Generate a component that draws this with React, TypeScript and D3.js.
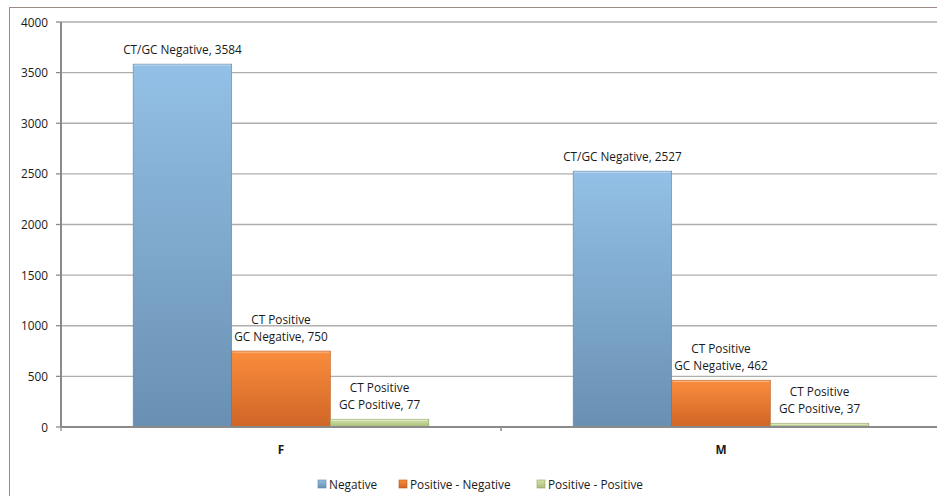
import React from "react";
import * as d3 from "d3";

const categories = ["F", "M"];
const seriesNames = ["Negative", "Positive - Negative", "Positive - Positive"];
const negative = [3584, 2527];
const posNeg = [750, 462];
const posPos = [77, 37];
const labelPrefixes = [["CT/GC Negative"], ["CT Positive", "GC Negative"], ["CT Positive", "GC Positive"]];
const yTicks = [0, 500, 1000, 1500, 2000, 2500, 3000, 3500, 4000];

const colors = [
  { top: "#93c0e6", bottom: "#6990b2", edge: "#5f86a8" },
  { top: "#fa8d3c", bottom: "#cf6527", edge: "#b9581f" },
  { top: "#d3e4aa", bottom: "#a9bd7a", edge: "#8fa260" },
];

export default function App() {
  const W = 937, H = 496;
  const left = 61, right = 941, top = 22, bottom = 427;
  const x0 = d3.scaleBand().domain(categories).range([left, right]).paddingInner(0).paddingOuter(0);
  const bw = x0.bandwidth();
  const groupW = bw * 0.672;
  const x1 = d3.scaleBand().domain(seriesNames).range([0, groupW]).padding(0);
  const y = d3.scaleLinear().domain([0, 4000]).range([bottom, top]);
  const data = [negative, posNeg, posPos];
  const font = "'Open Sans', 'Liberation Sans', sans-serif";
  const fs = 11.8;

  return (
    <svg width={W} height={H} style={{ position: "absolute", left: 0, top: 0, background: "#fff" }} fontFamily={font}>
      <defs>
        {colors.map((c, i) => (
          <linearGradient key={i} id={`g${i}`} x1="0" y1="0" x2="0" y2="1">
            <stop offset="0" stopColor={c.top} />
            <stop offset="1" stopColor={c.bottom} />
          </linearGradient>
        ))}
      </defs>
      <rect x={0} y={0} width={W} height={H} fill="#fff" />
      <line x1={9.5} y1={7} x2={9.5} y2={H} stroke="#9d8a86" strokeWidth={1} />
      <line x1={9} y1={7.5} x2={W} y2={7.5} stroke="#9d8a86" strokeWidth={1} />
      {yTicks.map((t) => (
        <g key={t}>
          {t > 0 && <line x1={left} x2={right} y1={y(t)} y2={y(t)} stroke="#aeaeae" strokeWidth={1.3} />}
          <line x1={56} x2={left} y1={y(t)} y2={y(t)} stroke="#8a8a8a" strokeWidth={1.3} />
          <text x={48} y={y(t) + 4.5} textAnchor="end" fontSize={fs} fill="#1a1a1a">{t}</text>
        </g>
      ))}
      {categories.map((c, ci) => {
        const gx = (x0(c) as number) + (bw - groupW) / 2;
        return (
          <g key={c}>
            {seriesNames.map((s, si) => {
              const v = data[si][ci];
              const bx = gx + (x1(s) as number);
              const w = x1.bandwidth();
              const by = y(v);
              const lines = [...labelPrefixes[si]];
              lines[lines.length - 1] = `${lines[lines.length - 1]}, ${v}`;
              const lh = 17.5;
              return (
                <g key={s}>
                  <rect x={bx} y={by} width={w} height={bottom - by} fill={`url(#g${si})`} stroke={colors[si].edge} strokeWidth={0.6} />
                  <line x1={bx + 1} x2={bx + w - 1} y1={by + 1} y2={by + 1} stroke="#ffffff" strokeOpacity={0.45} />
                  {lines.map((ln, li) => (
                    <text key={li} x={bx + w / 2} y={by - 10 - (lines.length - 1 - li) * lh} textAnchor="middle" fontSize={fs} fill="#1a1a1a">{ln}</text>
                  ))}
                </g>
              );
            })}
            <text x={(x0(c) as number) + bw / 2} y={454} textAnchor="middle" fontSize={fs} fontWeight="bold" fill="#1a1a1a">{c}</text>
          </g>
        );
      })}
      <line x1={left} x2={right} y1={bottom} y2={bottom} stroke="#8a8a8a" strokeWidth={2} />
      <line x1={left} x2={left} y1={top} y2={bottom} stroke="#8a8a8a" strokeWidth={2} />
      {categories.map((c, i) => (
        <line key={c} x1={(x0(c) as number) + (i === 0 ? bw : 0)} x2={(x0(c) as number) + (i === 0 ? bw : 0)} y1={bottom} y2={bottom + 4} stroke="#9a9a9a" strokeWidth={1.3} />
      ))}
      <line x1={left} x2={left} y1={bottom} y2={bottom + 4} stroke="#8a8a8a" strokeWidth={1.3} />
      {(() => {
        const items = [
          { x: 318, label: seriesNames[0] },
          { x: 399, label: seriesNames[1] },
          { x: 537, label: seriesNames[2] },
        ];
        return items.map((it, i) => (
          <g key={i}>
            <rect x={it.x} y={480} width={8} height={8} fill={`url(#g${i})`} stroke={colors[i].edge} strokeWidth={0.6} />
            <text x={it.x + 11} y={488.5} fontSize={fs} fill="#1a1a1a">{it.label}</text>
          </g>
        ));
      })()}
    </svg>
  );
}
